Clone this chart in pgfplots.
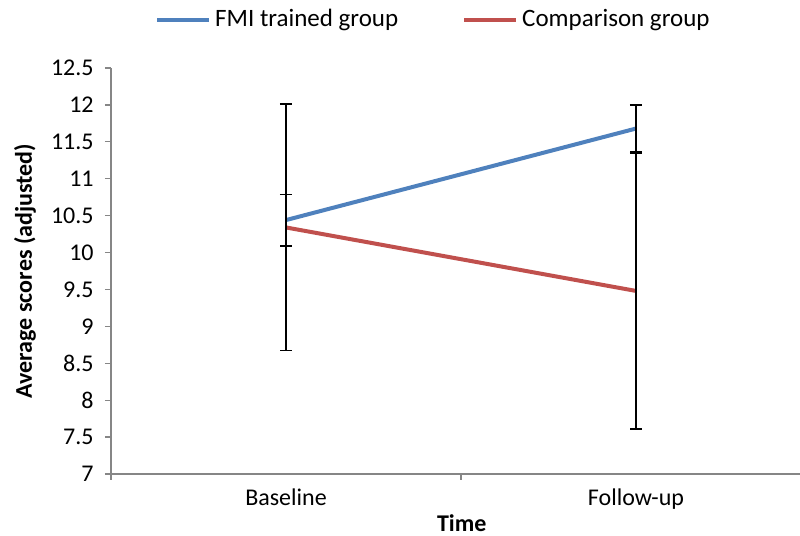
\documentclass[border=0pt]{standalone}
\usepackage{fontspec}
\setmainfont{Carlito}
\usepackage{pgfplots}
\pgfplotsset{compat=1.18}
\definecolor{fmiblue}{RGB}{79,129,189}
\definecolor{compred}{RGB}{192,80,77}
\definecolor{axgray}{RGB}{134,134,134}
\begin{document}
\fontsize{12}{14}\selectfont
\begin{tikzpicture}
\useasboundingbox (-55.5pt,-31pt) rectangle (344.5pt,237pt);
\begin{axis}[
  at={(0,0)}, anchor=south west,
  scale only axis, width=350pt, height=203pt,
  xmin=-0.5, xmax=1.5, ymin=7, ymax=12.5,
  axis x line*=bottom, axis y line*=left,
  axis line style={axgray, line width=0.6pt},
  every tick/.style={axgray, line width=0.6pt},
  tick align=outside,
  major tick length=3pt, minor tick length=3pt,
  ytick={7,7.5,8,8.5,9,9.5,10,10.5,11,11.5,12,12.5},
  yticklabel style={/pgf/number format/fixed, /pgf/number format/assume math mode=true, font=\fontsize{12}{14}\selectfont, xshift=-1.5pt},
  xtick={0,1}, xticklabels={Baseline,Follow-up},
  major x tick style={draw=none},
  minor xtick={-0.5,0.5,1.5},
  xticklabel style={font=\fontsize{12}{14}\selectfont},
  ylabel={\bfseries Average scores (adjusted)},
  ylabel style={at={(axis description cs:-0.123,0.5)}, anchor=center, font=\fontsize{12}{14}\selectfont},
  xlabel={\bfseries Time},
  xlabel style={at={(axis description cs:0.501,0)}, yshift=-24.5pt, anchor=center, font=\fontsize{12}{14}\selectfont},
  legend columns=2,
  legend style={draw=none, fill=none, at={(axis description cs:0.462,1.118)}, anchor=center,
    font=\fontsize{12.5}{14}\selectfont,
    /tikz/every even column/.append style={column sep=30pt}},
  legend image code/.code={\draw[#1, line width=2pt] (0pt,0pt) -- (26pt,0pt);},
  clip=false,
]
\addplot[fmiblue, line width=2pt, no markers,
  error bars/.cd, y dir=both, y explicit,
  error bar style={black, line width=0.7pt},
  error mark options={rotate=90, mark size=3pt, black, line width=0.7pt}]
  coordinates {(0,10.44) +- (0,0.35) (1,11.68) +- (0,0.32)};
\addlegendentry{FMI trained group}
\addplot[compred, line width=2pt, no markers,
  error bars/.cd, y dir=both, y explicit,
  error bar style={black, line width=0.7pt},
  error mark options={rotate=90, mark size=3pt, black, line width=0.7pt}]
  coordinates {(0,10.34) +- (0,1.67) (1,9.48) +- (0,1.87)};
\addlegendentry{Comparison group}
\end{axis}
\end{tikzpicture}
\end{document}
